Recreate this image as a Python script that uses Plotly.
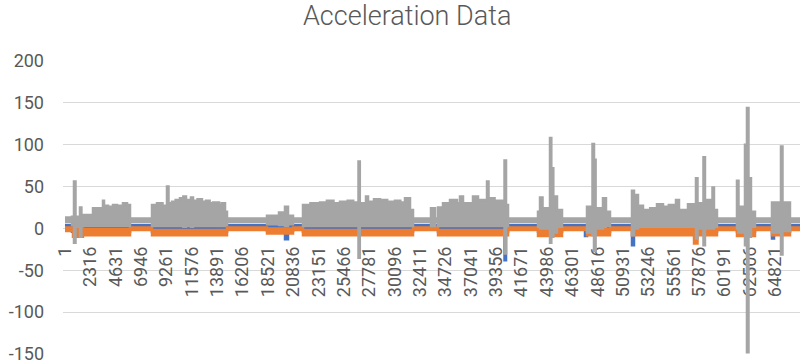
import plotly.graph_objects as go

# ---- axis ticks ----
x_tick_labels = ["1", "2316", "4631", "6946", "9261", "11576", "13891", "16206",
                 "18521", "20836", "23151", "25466", "27781", "30096", "32411",
                 "34726", "37041", "39356", "41671", "43986", "46301", "48616",
                 "50931", "53246", "55561", "57876", "60191", "62506", "64821"]
y_tick_values = [-150, -100, -50, 0, 50, 100, 150, 200]
y_tick_labels = ["-150", "-100", "-50", "0", "50", "100", "150", "200"]
last_index = 67070

# ---- series envelopes (segment start index, max, min) ----
gray_idx = [1, 641, 824, 961, 1371, 1500, 2558, 3470, 3561, 3926, 4383, 4748, 5295, 5660,
            5934, 7941, 8398, 8900, 9310, 9447, 9766, 10100, 10496, 10800, 11044, 11500,
            11682, 12100, 12500, 12869, 13200, 13508, 14055, 14300, 14603,
            14785, 18435, 19530, 19895, 20077, 20351, 20808,
            21720, 22400, 23271, 23900, 24500, 25096, 25800, 26300, 26784, 26903, 27469,
            27651, 28200, 28746, 29400, 30115, 30600, 31027, 31484,
            31758, 33400, 33765,
            34039, 34495, 35134, 35773, 36046, 36320, 37233, 37689, 38511, 38648, 39200,
            40108, 40245,
            40427, 43164, 43347, 43575, 44259, 44377, 44420, 44560, 44897,
            45353, 47634, 48136, 48273, 48420, 49094, 49367,
            49732, 51739, 51922, 52287, 52743, 53400, 54021, 54568, 55100, 55755, 56028,
            56849, 57579, 57716, 58263, 58400, 59085, 59221,
            59495, 61320, 61457, 62050, 62232, 62369, 62597,
            62962, 64514, 65335, 65472,
            66156]
gray_hi = [13, 14, 56, 14, 25, 16, 24, 33, 27, 26, 28, 27, 30, 28,
           12, 28, 30, 27, 50, 30, 32, 34, 36, 38, 34, 37,
           33, 35, 32, 33, 30, 31, 28, 30, 20,
           12, 15, 19, 15, 26, 15, 12,
           28, 30, 31, 33, 30, 32, 33, 31, 80, 30, 38,
           32, 35, 34, 32, 33, 31, 36, 22,
           12, 24, 12,
           25, 30, 34, 30, 38, 30, 38, 34, 56, 36, 33,
           81, 28,
           12, 20, 37, 24, 108, 24, 72, 38, 22,
           12, 26, 101, 82, 24, 36, 20,
           12, 45, 40, 27, 22, 24, 29, 26, 28, 34, 22,
           29, 60, 30, 85, 34, 49, 22,
           12, 57, 26, 100, 144, 60, 20,
           12, 31, 98, 31,
           12]
gray_lo = [8, 4, -17, 2, -10, 3, 3, 3, 3, 3, 3, 3, 3, 3,
           8, 3, 3, 3, 3, 3, 3, 3, 3, 2, 3, 2,
           3, 3, 3, 3, 3, 3, 3, 3, 4,
           8, 5, 4, 5, 3, 5, 8,
           3, 3, 3, 3, 3, 3, 3, 3, -35, 3, 3,
           3, 3, 3, 3, 3, 3, 3, 3,
           8, 3, 8,
           3, 3, 3, 3, 3, 3, 3, 3, 3, 3, 3,
           -30, 3,
           8, 2, 0, 0, -17, -5, -10, -5, 2,
           8, -5, -8, -27, 0, 2, 3,
           8, -8, 0, 2, 2, 2, 2, 2, 2, 2, 2,
           2, -12, 0, -20, 0, 0, 2,
           8, 0, -5, -20, -148, -10, 2,
           8, -5, -31, -3,
           8]

orange_idx = [1, 732, 1645, 5934, 7941, 14785, 18435, 20808, 21720, 31758, 34039, 40427,
              43164, 45353, 47634, 49732, 51739, 57400, 57716, 59495, 61320, 62962, 64514,
              66156]
orange_hi = [1, 0, -1, 1, -2, 1, 0, 1, -2, 1, -2, 1, -1, 1, -1, 1, -1, -1, -1, 1, -1, 1, -1, 1]
orange_lo = [-3, -10, -8, -2, -8, -2, -6, -2, -8, -2, -8, -2, -9, -2, -8, -2, -8, -18, -8, -2,
             -9, -2, -8, -2]

blue_idx = [1, 641, 5934, 7941, 14785, 18435, 20077, 20351, 20808, 21720, 31758, 34039,
            40108, 40245, 40427, 43164, 45353, 47450, 47634, 49732, 51739, 51922, 59495,
            61320, 62962, 64514, 64700, 66156]
blue_hi = [4, 2, 4, 2, 4, 3, 3, 3, 4, 2, 4, 2, 2, 2, 4, 2, 4, 2, 2, 4, 2, 2, 4, 2, 4, 2, 2, 4]
blue_lo = [2, -4, 2, -4, 2, -3, -13, -3, 2, -4, 2, -4, -38, -4, 2, -4, 2, -9, -4, 2, -20,
           -4, 2, -4, 2, -12, -4, 2]

series = [
    ("Series1", blue_idx, blue_hi, blue_lo, "#4472C4"),
    ("Series2", orange_idx, orange_hi, orange_lo, "#ED7D31"),
    ("Series3", gray_idx, gray_hi, gray_lo, "#A5A5A5"),
]

fig = go.Figure()
for name, idx, hi, lo, color in series:
    xs = list(idx) + [last_index]
    fig.add_trace(go.Scatter(x=xs, y=list(lo) + [lo[-1]], mode="lines",
                             line=dict(color=color, width=2.5, shape="hv"),
                             showlegend=False, hoverinfo="skip", name=name))
    fig.add_trace(go.Scatter(x=xs, y=list(hi) + [hi[-1]], mode="lines",
                             line=dict(color=color, width=2.5, shape="hv"),
                             fill="tonexty", fillcolor=color,
                             showlegend=False, hoverinfo="skip", name=name))

text_color = "#595959"
fig.update_layout(
    width=800, height=363,
    margin=dict(l=63, r=0, t=61, b=9),
    paper_bgcolor="white", plot_bgcolor="white",
    font=dict(family="Roboto", color=text_color, size=18),
    title=dict(text="Acceleration Data", x=0.509, xref="container", xanchor="center",
               y=0.958, yref="container", yanchor="middle",
               font=dict(family="Roboto", size=27, color=text_color, weight=300)),
    xaxis=dict(range=[-180, last_index], tickmode="array",
               tickvals=[int(t) for t in x_tick_labels], ticktext=x_tick_labels,
               tickangle=-90, showgrid=False, zeroline=False,
               showline=True, linecolor="#d9d9d9", linewidth=1, layer="below traces",
               anchor="free", position=150 / 350, ticks="", ticklabelstandoff=10,
               tickfont=dict(size=18, color=text_color), automargin=False,
               ticklabeloverflow="allow"),
    yaxis=dict(range=[-150, 200], tickmode="array", tickvals=y_tick_values,
               ticktext=y_tick_labels, showgrid=True, gridcolor="#d9d9d9", gridwidth=1,
               zeroline=False, showline=False, ticks="", ticklabelstandoff=18,
               tickfont=dict(size=18, color=text_color), automargin=False,
               ticklabeloverflow="allow"),
)

fig.write_html("out.html", config={"displayModeBar": False},
               post_script="document.body.style.margin='0';document.body.style.overflow='hidden';")
